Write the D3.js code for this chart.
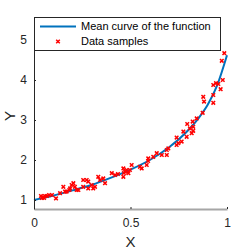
<!DOCTYPE html>
<html>
<head>
<meta charset="utf-8">
<script src="https://cdn.jsdelivr.net/npm/d3@7"></script>
<style>
  body { margin: 0; background: #fff; }
  svg { display: block; font-family: "Liberation Sans", Arial, sans-serif; }
</style>
</head>
<body>
<div id="chart"></div>
<script>
const width = 250;
const height = 250;
const margin = { top: 17, right: 23, bottom: 41, left: 34 };

// mean curve
const curveX = [0, 0.1, 0.2, 0.3, 0.4, 0.5, 0.6, 0.7, 0.8, 0.85, 0.9, 0.95, 1.0];
const curveY = [1.0, 1.11, 1.24, 1.38, 1.56, 1.76, 2.0, 2.32, 2.75, 3.03, 3.38, 3.88, 4.62];

// noisy samples
const sampleX = [0.036, 0.047, 0.057, 0.067, 0.052, 0.078, 0.093, 0.041, 0.114, 0.135,
  0.152, 0.161, 0.169, 0.183, 0.187, 0.195, 0.204, 0.212, 0.221, 0.230,
  0.255, 0.273, 0.281, 0.255, 0.281, 0.299, 0.307, 0.316, 0.333, 0.342,
  0.359, 0.368, 0.403, 0.420, 0.435, 0.463, 0.463, 0.472, 0.480, 0.489,
  0.466, 0.506, 0.497, 0.549, 0.558, 0.584, 0.592, 0.591, 0.618, 0.636,
  0.662, 0.688, 0.696, 0.688, 0.739, 0.739, 0.748, 0.765, 0.774, 0.791,
  0.794, 0.808, 0.817, 0.825, 0.825, 0.822, 0.843, 0.874, 0.877, 0.881,
  0.929, 0.929, 0.929, 0.943, 0.955, 0.967, 0.978, 0.973, 0.986];
const sampleY = [1.10, 1.075, 1.10, 1.10, 1.05, 1.125, 1.125, 1.05, 1.04, 1.17,
  1.33, 1.21, 1.21, 1.25, 1.29, 1.375, 1.42, 1.33, 1.25, 1.25,
  1.50, 1.50, 1.46, 1.33, 1.29, 1.375, 1.29, 1.33, 1.58, 1.50,
  1.54, 1.42, 1.67, 1.625, 1.65, 1.79, 1.58, 1.71, 1.75, 1.67,
  1.675, 1.875, 1.75, 1.83, 1.79, 1.875, 2.04, 1.975, 2.08, 2.17,
  2.125, 2.25, 2.29, 2.125, 2.56, 2.375, 2.42, 2.46, 2.71, 2.58,
  2.90, 2.79, 2.67, 2.83, 2.73, 2.96, 3.04, 3.18, 3.58, 3.46,
  3.625, 3.43, 3.875, 3.92, 3.90, 3.77, 4.00, 4.48, 4.67];

const xTicks = [0, 0.5, 1];
const yTicks = [1, 2, 3, 4, 5];
const legendLabels = ["Mean curve of the function", "Data samples"];

const lineColor = "#0072bd";
const markColor = "#ff0000";
const axisColor = "#262626";

const svg = d3.select("#chart").append("svg")
  .attr("width", width)
  .attr("height", height);

const x = d3.scaleLinear().domain([0, 1]).range([margin.left, width - margin.right]);
const y = d3.scaleLinear().domain([0.775, 5.575]).range([height - margin.bottom, margin.top]);

// mean curve
const curveData = curveX.map((v, i) => ({ x: v, y: curveY[i] }));
svg.append("path")
  .datum(curveData)
  .attr("fill", "none")
  .attr("stroke", lineColor)
  .attr("stroke-width", 2)
  .attr("d", d3.line().x(d => x(d.x)).y(d => y(d.y)).curve(d3.curveMonotoneX));

// sample markers (x shapes)
const s = 1.8;
const cross = (cx, cy) => `M${cx - s},${cy - s}L${cx + s},${cy + s}M${cx - s},${cy + s}L${cx + s},${cy - s}`;
svg.append("g").selectAll("path")
  .data(sampleX.map((v, i) => ({ x: v, y: sampleY[i] })))
  .enter().append("path")
  .attr("d", d => cross(x(d.x), y(d.y)))
  .attr("stroke", markColor)
  .attr("stroke-width", 1.5);

// x axis
const xAxis = svg.append("g")
  .attr("transform", `translate(0,${height - margin.bottom})`)
  .call(d3.axisBottom(x).tickValues(xTicks).tickSizeInner(-2).tickSizeOuter(0).tickPadding(9).tickFormat(d3.format("")));
xAxis.select(".domain").attr("stroke", "#a6a6a6").attr("stroke-width", 2);
xAxis.selectAll(".tick line").attr("stroke", axisColor);
xAxis.selectAll("text").attr("fill", axisColor).style("font-size", "12px");

// y axis
const yAxis = svg.append("g")
  .attr("transform", `translate(${margin.left},0)`)
  .call(d3.axisLeft(y).tickValues(yTicks).tickSizeInner(-2).tickSizeOuter(0).tickPadding(7).tickFormat(d3.format("d")));
yAxis.select(".domain").attr("stroke", axisColor);
yAxis.selectAll(".tick line").attr("stroke", axisColor);
yAxis.selectAll("text").attr("fill", axisColor).style("font-size", "12px");

// axis labels
svg.append("text")
  .attr("x", x(0.5))
  .attr("y", 247)
  .attr("text-anchor", "middle")
  .attr("fill", axisColor)
  .style("font-size", "15px")
  .text("X");

svg.append("text")
  .attr("transform", `translate(15,${y(3) - 4}) rotate(-90)`)
  .attr("text-anchor", "middle")
  .attr("fill", axisColor)
  .style("font-size", "15px")
  .text("Y");

// legend
const legend = svg.append("g");
legend.append("rect")
  .attr("x", 34.5).attr("y", 17.5)
  .attr("width", 186).attr("height", 33)
  .attr("fill", "#fff")
  .attr("stroke", axisColor)
  .attr("stroke-width", 1);

legend.append("line")
  .attr("x1", 40).attr("x2", 76)
  .attr("y1", 26.5).attr("y2", 26.5)
  .attr("stroke", lineColor)
  .attr("stroke-width", 2);

legend.append("path")
  .attr("d", cross(58, 41.5))
  .attr("stroke", markColor)
  .attr("stroke-width", 1.5);

legend.selectAll("text.lbl")
  .data(legendLabels)
  .enter().append("text")
  .attr("class", "lbl")
  .attr("x", 81)
  .attr("y", (d, i) => 26.5 + i * 15)
  .attr("dy", "0.35em")
  .attr("fill", "#000")
  .style("font-size", "11px")
  .text(d => d);
</script>
</body>
</html>
